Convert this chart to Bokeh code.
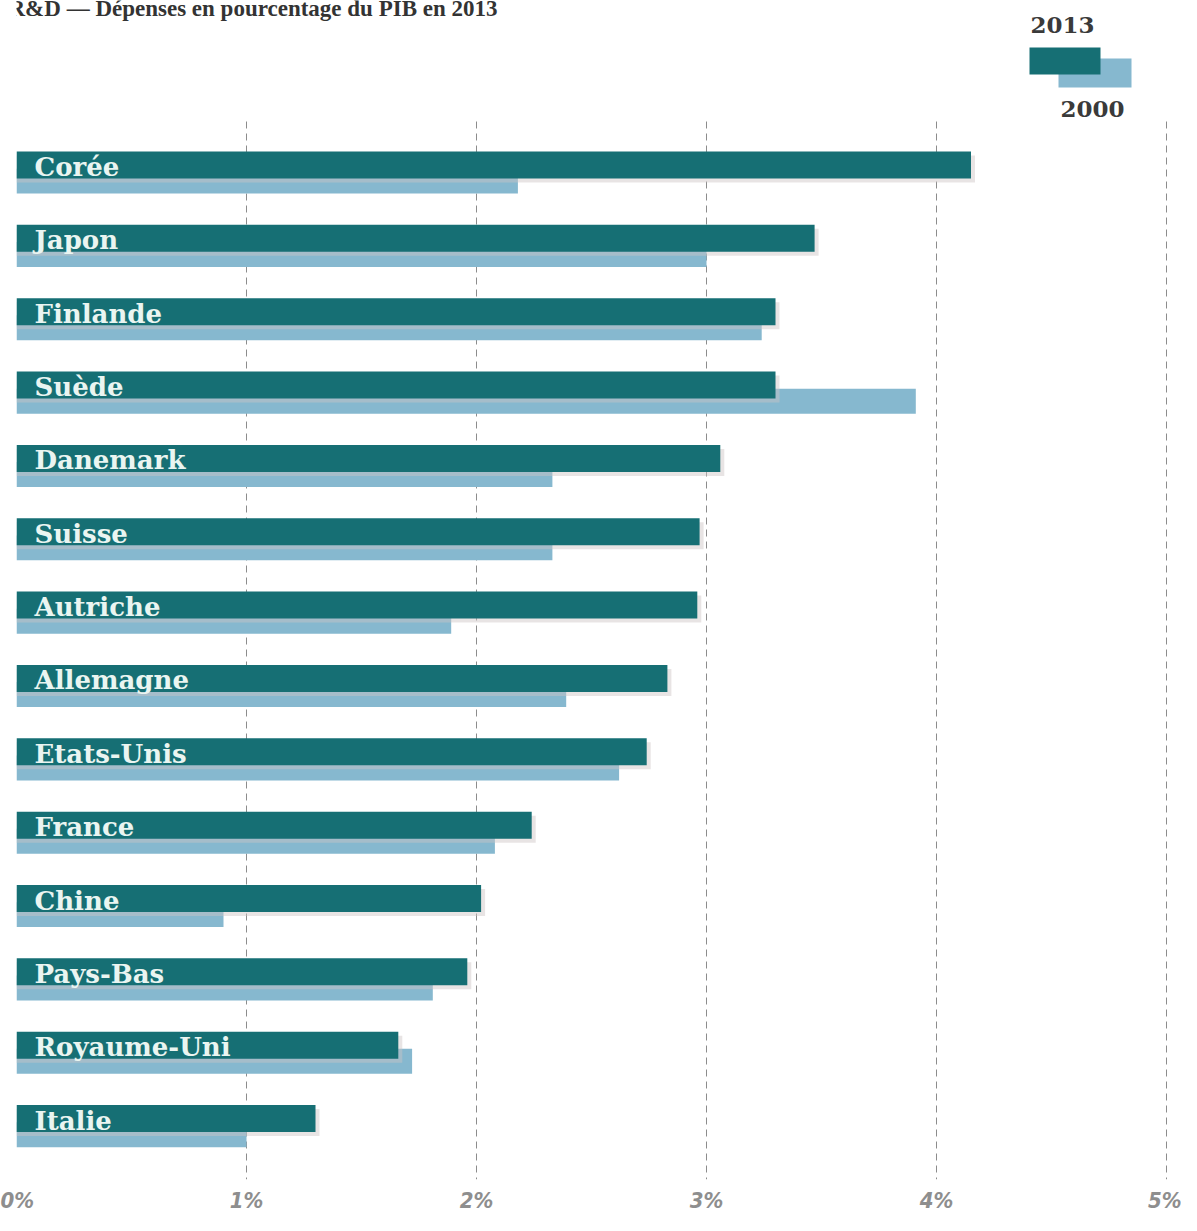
from bokeh.plotting import figure
from bokeh.models import Range1d, FixedTicker, Label, ColumnDataSource
from bokeh.embed import file_html
from bokeh.resources import INLINE
from bokeh.core.properties import value

# ---- data ----
countries = ["Corée", "Japon", "Finlande", "Suède", "Danemark", "Suisse", "Autriche",
             "Allemagne", "Etats-Unis", "France", "Chine", "Pays-Bas", "Royaume-Uni", "Italie"]
rd_2013 = [4.15, 3.47, 3.30, 3.30, 3.06, 2.97, 2.96, 2.83, 2.74, 2.24, 2.02, 1.96, 1.66, 1.30]
rd_2000 = [2.18, 3.00, 3.24, 3.91, 2.33, 2.33, 1.89, 2.39, 2.62, 2.08, 0.90, 1.81, 1.72, 1.00]
tick_values = [0, 1, 2, 3, 4, 5]
tick_labels = ["0%", "1%", "2%", "3%", "4%", "5%"]
title_text = "R&D — Dépenses en pourcentage du PIB en 2013"
legend_years = ["2013", "2000"]

DARK = "#166f74"
LIGHT = "#86b8cf"

W, H = 1181, 1215
BL, BR, BT, BB = 16, 4, 0, 36
px_x = (1166 - 16) / 5.0   # pixels per 1 %
px_y = 73.35               # pixels per row
frame_w = W - BL - BR
frame_h = H - BT - BB
x_end = frame_w / px_x
y_top = -(164.5 - BT) / px_y
y_bot = y_top + frame_h / px_y

p = figure(width=W, height=H, output_backend="svg", toolbar_location=None,
           x_range=Range1d(0, x_end), y_range=Range1d(y_bot, y_top),
           min_border_left=BL, min_border_right=BR, min_border_top=BT, min_border_bottom=BB)
p.outline_line_color = None
p.background_fill_color = "white"
p.border_fill_color = "white"
p.xgrid.visible = False
p.ygrid.visible = False
p.yaxis.visible = False

lx = lambda px: (px - BL) / px_x
ly = lambda py: y_top + (py - BT) / px_y

rows = list(range(len(countries)))
src = ColumnDataSource(dict(
    y=rows, c=countries, v13=rd_2013, v00=rd_2000,
    y00=[r + 0.22 for r in rows],
    ysh=[r + 4 / px_y for r in rows],
    v13sh=[v + 4 / px_x for v in rd_2013],
))

# gridlines (dashed) from just below legend to bottom
grid_x = tick_values[1:]
p.segment(x0=grid_x, x1=grid_x, y0=[ly(121)] * len(grid_x),
          y1=[y_bot] * len(grid_x), line_color="#8c8c8c", line_width=1, line_dash="7 5")

# 2000 bars (behind)
p.hbar(y="y00", left=0, right="v00", height=0.34, source=src,
       fill_color=LIGHT, line_color=None)
# shadow for 2013 bars
p.hbar(y="ysh", left=0, right="v13sh", height=0.368, source=src,
       fill_color="#cbc3c3", fill_alpha=0.45, line_color=None)
# 2013 bars
p.hbar(y="y", left=0, right="v13", height=0.368, source=src,
       fill_color=DARK, line_color=None)

# country labels
p.text(x=0, y="y", text="c", source=src, x_offset=18, y_offset=2,
       text_font=value("DejaVu Serif"), text_font_size="26px", text_font_style="bold",
       text_color="#eaf5f1", text_baseline="middle", text_align="left")

# legend
p.quad(left=[lx(1058)], right=[lx(1131)], top=[ly(58)], bottom=[ly(87)],
       fill_color=LIGHT, line_color=None)
p.quad(left=[lx(1029)], right=[lx(1100)], top=[ly(47)], bottom=[ly(74)],
       fill_color=DARK, line_color=None)
p.text(x=[lx(1030), lx(1060)], y=[ly(24), ly(108)], text=legend_years,
       text_font=value("DejaVu Serif"), text_font_size="23px", text_font_style="bold",
       text_color="#3a3a3a", text_baseline="middle", text_align="left")

# title (cut off at top, as in the original)
p.add_layout(Label(x=0, y=ly(8), x_offset=-8, text=title_text,
                   text_font="Liberation Serif", text_font_size="23px",
                   text_font_style="bold", text_color="#333333",
                   text_baseline="alphabetic"))

# x axis
ax = p.xaxis[0]
ax.ticker = FixedTicker(ticks=tick_values)
ax.major_label_overrides = {v: t for v, t in zip(tick_values, tick_labels)}
ax.axis_line_color = None
ax.major_tick_line_color = None
ax.minor_tick_line_color = None
ax.major_tick_out = 0
ax.major_tick_in = 0
ax.major_label_standoff = 8
ax.major_label_text_font = "DejaVu Sans Condensed"
ax.major_label_text_font_style = "bold italic"
ax.major_label_text_font_size = "22px"
ax.major_label_text_color = "#8e8e8e"

open("out.html", "w").write(file_html(p, INLINE))
